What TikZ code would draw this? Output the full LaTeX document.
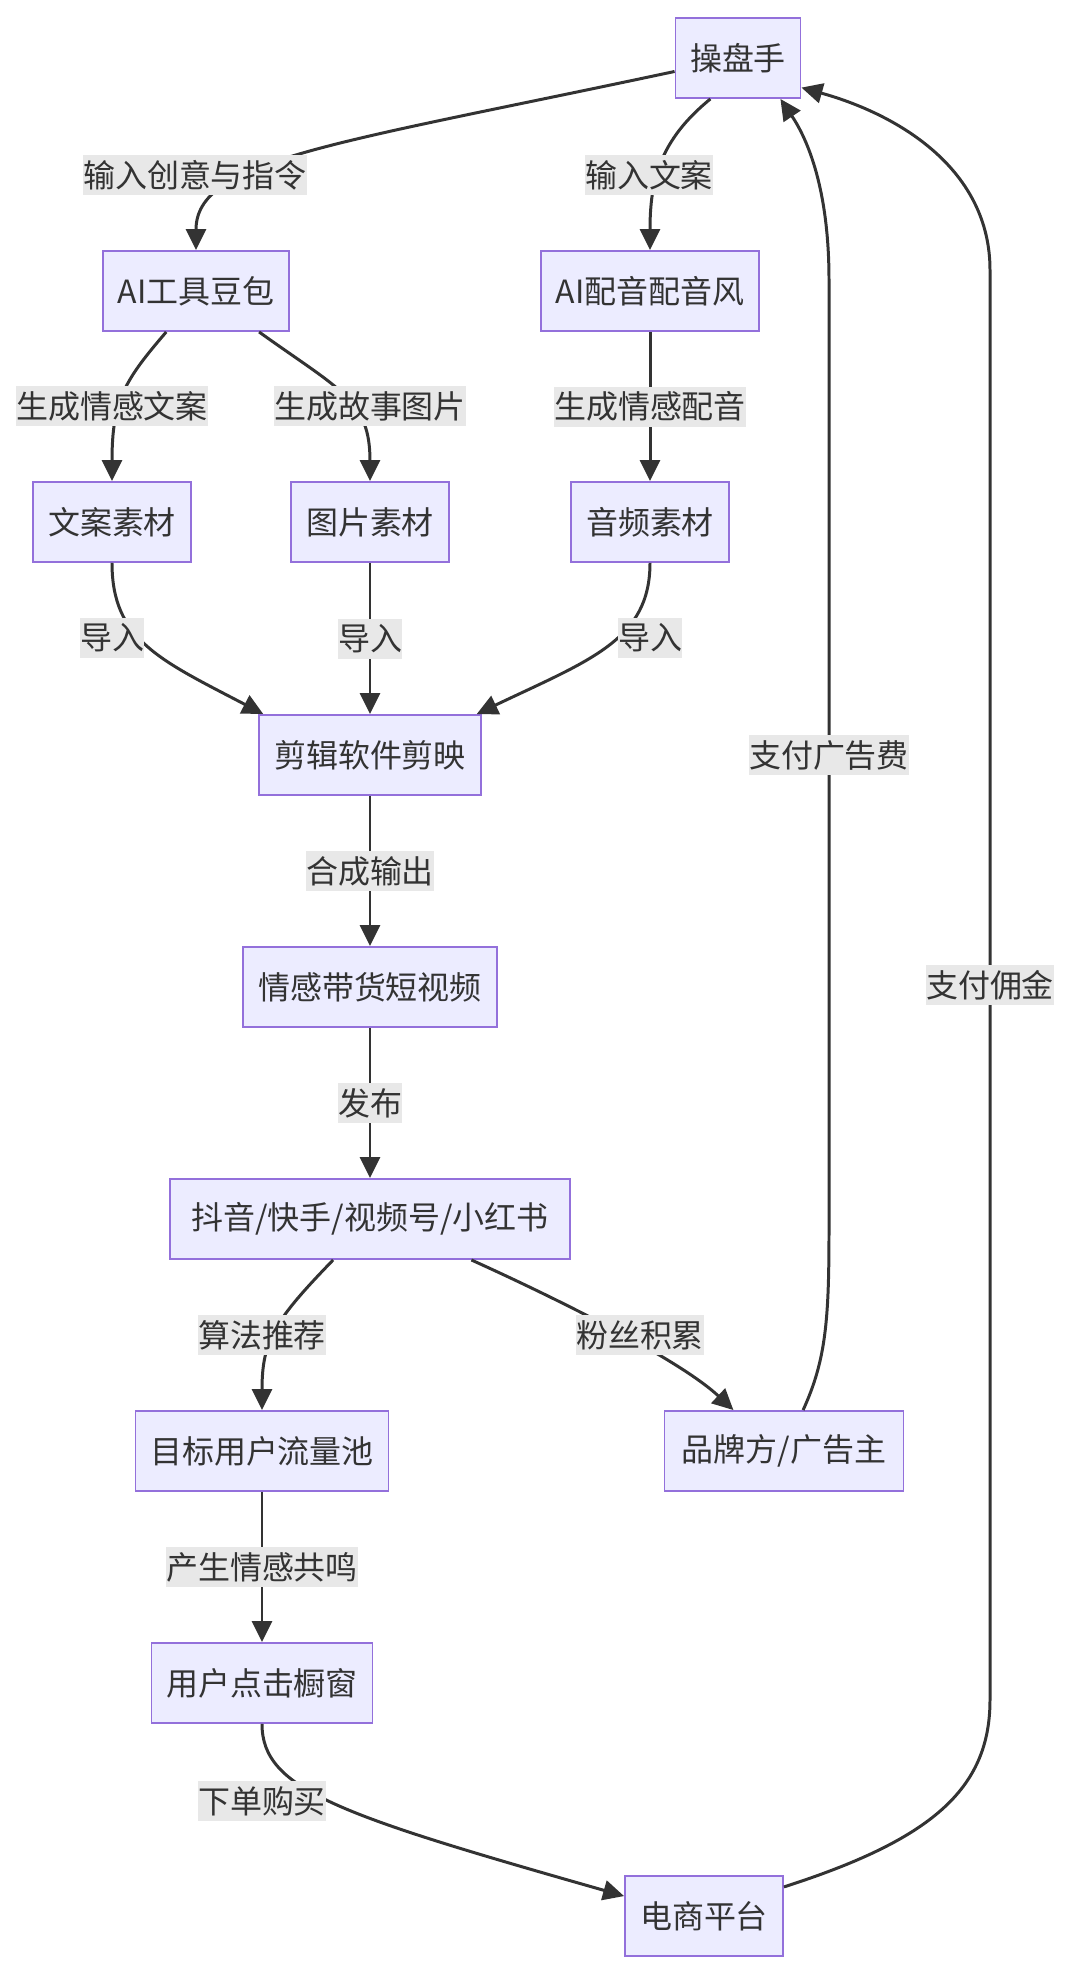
\documentclass[tikz,border=0pt]{standalone}
\usepackage{fontspec}
\setmainfont{Noto Sans CJK SC}
\usepackage{tikz}
\usetikzlibrary{arrows.meta}
\definecolor{mmfill}{RGB}{236,236,255}
\definecolor{mmedge}{RGB}{147,112,219}
\definecolor{mmline}{RGB}{51,51,51}
\definecolor{mmlabel}{RGB}{232,232,232}

\begin{document}
\begin{tikzpicture}[
  x=0.02cm, y=-0.02cm,
  every node/.style={font=\fontsize{18.2pt}{22pt}\selectfont, text=mmline},
  proc/.style={rectangle, draw=mmedge, fill=mmfill, line width=1.1pt,
               minimum height=1.6cm, inner xsep=0.29cm, align=center},
  lbl/.style={fill=mmlabel, inner xsep=0pt, inner ysep=0pt, minimum height=0.8cm},
  arr/.style={-{Triangle[length=0.42cm, width=0.4cm]}, line width=1.7pt, draw=mmline},
]
\useasboundingbox (0,0) rectangle (1072,1974);

\node[proc, minimum width=2.5cm]  (op)  at (738,58)   {操盘手};
\node[proc, minimum width=3.7cm]  (ai)  at (196,291)  {AI工具豆包};
\node[proc, minimum width=4.36cm] (ai2) at (650,291)  {AI配音配音风};
\node[proc, minimum width=3.16cm] (wa)  at (112,522)  {文案素材};
\node[proc, minimum width=3.16cm] (tp)  at (370,522)  {图片素材};
\node[proc, minimum width=3.16cm] (yp)  at (650,522)  {音频素材};
\node[proc, minimum width=4.44cm] (jy)  at (370,755)  {剪辑软件剪映};
\node[proc, minimum width=5.08cm] (dsp) at (370,987)  {情感带货短视频};
\node[proc, minimum width=8cm]    (pt)  at (370,1219) {抖音/快手/视频号/小红书};
\node[proc, minimum width=5.06cm] (mb)  at (262,1451) {目标用户流量池};
\node[proc, minimum width=4.78cm] (bp)  at (784,1451) {品牌方/广告主};
\node[proc, minimum width=4.42cm] (yh)  at (262,1683) {用户点击橱窗};
\node[proc, minimum width=3.16cm] (ds)  at (704,1916) {电商平台};

% production
\draw[arr] (op.192) .. controls (330,145) and (196,160) .. (ai.north)
  node[lbl] at (195,175) {输入创意与指令};
\draw[arr] (op.-124) .. controls (660,140) and (650,180) .. (ai2.north)
  node[lbl] at (649,175) {输入文案};
\draw[arr] (ai.-126) .. controls (125,380) and (112,400) .. (wa.north)
  node[lbl] at (112,406) {生成情感文案};
\draw[arr] (ai.-33) .. controls (340,390) and (370,400) .. (tp.north)
  node[lbl] at (370,406) {生成故事图片};
\draw[arr] (ai2) -- node[lbl]{生成情感配音} (yp);
\draw[arr] (wa.south) .. controls (112,640) and (160,660) .. (jy.159)
  node[lbl] at (112,638) {导入};
\draw[arr] (tp) -- node[lbl]{导入} (jy);
\draw[arr] (yp.south) .. controls (650,640) and (590,660) .. (jy.21)
  node[lbl] at (650,638) {导入};
\draw[arr] (jy) -- node[lbl]{合成输出} (dsp);
\draw[arr] (dsp) -- node[lbl]{发布} (pt);

% distribution
\draw[arr] (pt.-132) .. controls (275,1320) and (262,1340) .. (mb.north)
  node[lbl] at (262,1335) {算法推荐};
\draw[arr] (pt.-22) .. controls (560,1300) and (680,1360) .. (bp.141)
  node[lbl] at (640,1335) {粉丝积累};
\draw[arr] (mb) -- node[lbl]{产生情感共鸣} (yh);
\draw[arr] (yh.south) .. controls (262,1790) and (340,1815) .. (ds.166)
  node[lbl] at (262,1801) {下单购买};

% money back
\draw[arr] (bp.65) .. controls (826,1360) and (829,1320) .. (829,1230)
  -- node[lbl]{支付广告费} (829,280)
  .. controls (829,190) and (808,140) .. (op.-44);
\draw[arr] (ds.20) .. controls (930,1840) and (990,1790) .. (990,1700)
  -- node[lbl]{支付佣金} (990,270)
  .. controls (990,170) and (900,115) .. (op.-25);

\end{tikzpicture}
\end{document}
